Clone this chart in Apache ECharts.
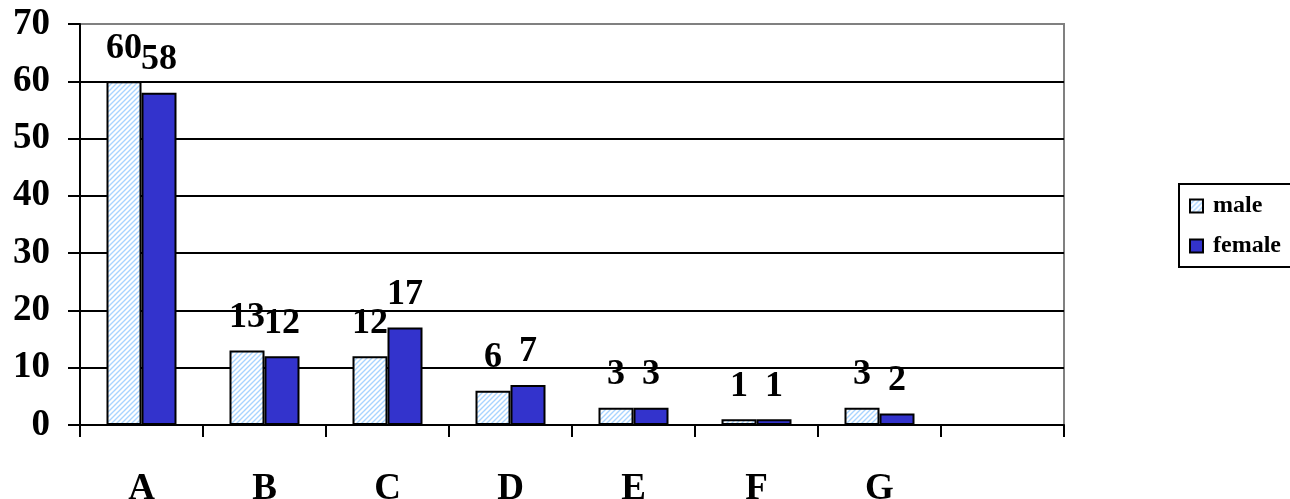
<!DOCTYPE html>
<html><head><meta charset="utf-8">
<script src="https://cdn.jsdelivr.net/npm/echarts@6/dist/echarts.min.js"></script>
<style>html,body{margin:0;padding:0;background:#fff}#c{width:1290px;height:499px}</style>
</head><body><div id="c"></div>
<script>
var categories = ['A','B','C','D','E','F','G',''];
var maleValues = [60,13,12,6,3,1,3,null];
var femaleValues = [58,12,17,7,3,1,2,null];
var yTicks = {min:0, max:70, interval:10};

var pc = document.createElement('canvas');
pc.width = 5; pc.height = 5;
var g = pc.getContext('2d');
g.fillStyle = '#ffffff'; g.fillRect(0,0,5,5);
g.strokeStyle = '#a8d4ff'; g.lineWidth = 1.4;
g.beginPath();
g.moveTo(-1,6); g.lineTo(6,-1);
g.moveTo(-6,6); g.lineTo(1,-1);
g.moveTo(4,6); g.lineTo(11,-1);
g.stroke();

var font = '"Liberation Serif","Times New Roman",serif';
var chart = echarts.init(document.getElementById('c'));
var lbl = {show:true, position:'top', distance:15, fontFamily:font, fontWeight:'bold', fontSize:36, color:'#000'};
chart.setOption({
  animation:false,
  grid:{left:80, top:24, right:226, bottom:74, show:true, borderColor:'#808080', borderWidth:2,
        containLabel:false, outerBoundsMode:'none'},
  legend:{
    orient:'vertical', left:1179, top:184,
    padding:[10,30,9,10], itemGap:16, itemWidth:13, itemHeight:13,
    borderColor:'#000', borderWidth:2,
    textStyle:{fontFamily:font, fontWeight:'bold', fontSize:24, color:'#000', padding:[0,0,0,5]},
    data:[{name:'male', icon:'rect'},{name:'female', icon:'rect'}]
  },
  xAxis:{
    type:'category', data:categories,
    axisLine:{lineStyle:{color:'#000', width:2}},
    axisTick:{show:true, length:12, lineStyle:{color:'#000', width:2}},
    axisLabel:{margin:46, fontFamily:font, fontWeight:'bold', fontSize:37, color:'#000'}
  },
  yAxis:{
    type:'value', min:yTicks.min, max:yTicks.max, interval:yTicks.interval,
    axisLine:{show:true, lineStyle:{color:'#000', width:2}},
    axisTick:{show:true, length:12, lineStyle:{color:'#000', width:2}},
    axisLabel:{margin:30, fontFamily:font, fontWeight:'bold', fontSize:37, color:'#000'},
    splitLine:{lineStyle:{color:['#000','#000','#000','#000','#000','#000','#000','#808080'], width:2}}
  },
  series:[
    {name:'male', type:'bar', data:maleValues, barWidth:35, barGap:'0%',
     itemStyle:{color:{image:pc, repeat:'repeat'}, borderColor:'#000', borderWidth:2},
     label:lbl},
    {name:'female', type:'bar', data:femaleValues, barWidth:35, barGap:'0%',
     itemStyle:{color:'#3333cc', borderColor:'#000', borderWidth:2},
     label:lbl}
  ]
});
</script></body></html>
